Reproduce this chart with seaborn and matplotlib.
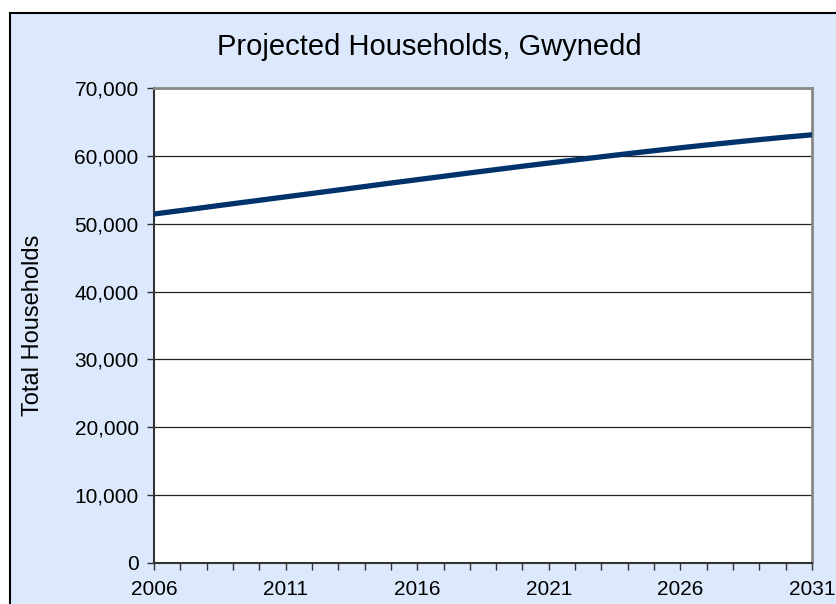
import numpy as np
import pandas as pd
import seaborn as sns
from matplotlib import pyplot as plt
from matplotlib import ticker
from matplotlib.patches import Rectangle

# DATA
years = list(range(2006, 2032))
households = [51430, 51930, 52440, 52950, 53450, 53960, 54460, 54970, 55480, 55990,
              56490, 56990, 57490, 57980, 58470, 58940, 59400, 59860, 60320, 60760,
              61190, 61600, 62000, 62390, 62760, 63100]
xtick_years = [2006, 2011, 2016, 2021, 2026, 2031]
title = 'Projected Households, Gwynedd'
ylabel = 'Total Households'

df = pd.DataFrame({'Year': years, 'Households': households})

sns.set_style('white')
plt.rcParams['font.family'] = ['Liberation Sans', 'DejaVu Sans']
plt.rcParams['text.color'] = 'black'
plt.rcParams['axes.labelcolor'] = 'black'

fig = plt.figure(figsize=(8.36, 6.04), dpi=100)
fig.patch.set_facecolor('white')
# chart area with black border (runs off the right/bottom edge)
bg = Rectangle((10 / 836, -0.05), 1.2, 0.05 + 1 - 13 / 604,
               transform=fig.transFigure, facecolor='#dce9fc',
               edgecolor='black', linewidth=1.5, zorder=-5)
fig.add_artist(bg)

ax = fig.add_axes([154 / 836, 41 / 604, 658 / 836, 475 / 604])
ax.set_facecolor('white')
sns.lineplot(data=df, x='Year', y='Households', color='#00336b', linewidth=3.8, ax=ax, zorder=3)

ax.set_xlim(2006, 2031)
ax.set_ylim(0, 70000)
ax.xaxis.set_major_locator(ticker.FixedLocator(xtick_years))
ax.xaxis.set_minor_locator(ticker.FixedLocator(years))
ax.yaxis.set_major_locator(ticker.MultipleLocator(10000))
ax.yaxis.set_major_formatter(ticker.StrMethodFormatter('{x:,.0f}'))
ax.grid(axis='y', color='#222222', linewidth=0.9)
ax.set_axisbelow(True)

ax.tick_params(axis='both', which='both', direction='out', length=5, width=1,
               color='#333333', labelsize=15, labelcolor='black')
ax.tick_params(axis='x', which='both', bottom=True, pad=7)
ax.tick_params(axis='y', left=True, pad=6)

for s in ['left', 'bottom']:
    ax.spines[s].set_color('#333333')
    ax.spines[s].set_linewidth(1.5)
for s in ['top', 'right']:
    ax.spines[s].set_color('#888888')
    ax.spines[s].set_linewidth(2)
    ax.spines[s].set_visible(True)

ax.set_xlabel('')
ax.set_ylabel(ylabel, fontsize=17, labelpad=22)
fig.text(429 / 836, 1 - 47 / 604, title, fontsize=21, ha='center', va='center')

plt.savefig('out.png', dpi=100)
